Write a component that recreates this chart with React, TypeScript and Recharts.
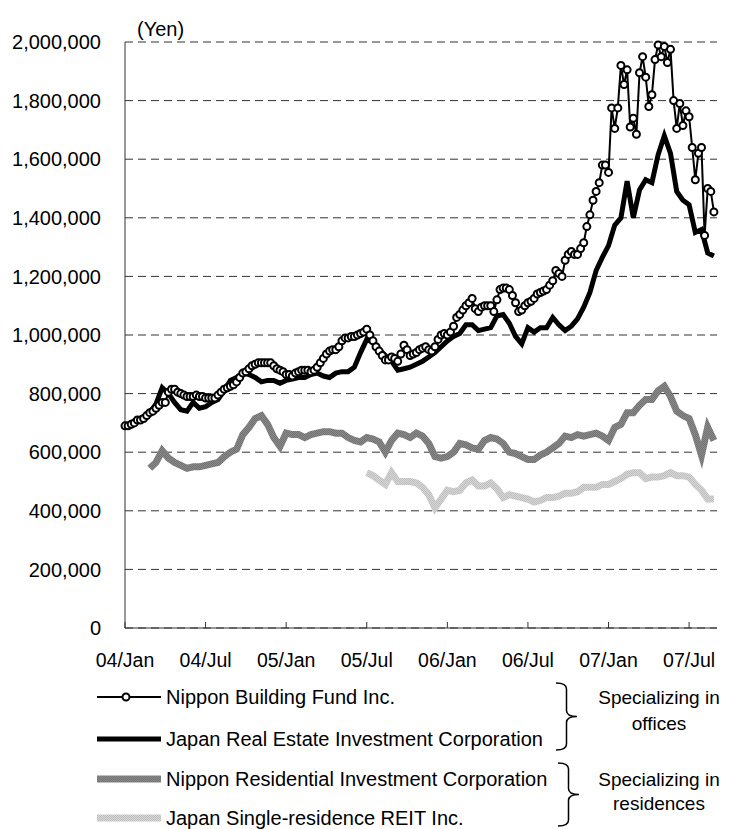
import React from 'react'
import { LineChart, Line, XAxis, YAxis, CartesianGrid } from 'recharts'

// Unit prices in thousand yen. Nippon Building Fund: weekly from the first week of Jan 2004
const nipponBuildingFund = [
  690, 690, 695, 700, 710, 710, 715, 725, 735, 740,
  750, 760, 770, 770, 805, 815, 815, 805, 800, 795,
  790, 790, 790, 795, 790, 790, 785, 785, 785, 785,
  795, 805, 815, 820, 825, 830, 840, 855, 870, 875,
  885, 895, 900, 905, 905, 905, 905, 905, 895, 885,
  880, 875, 865, 865, 860, 870, 875, 880, 880, 880,
  875, 880, 890, 905, 920, 935, 945, 950, 950, 960,
  980, 990, 990, 995, 995, 1000, 1005, 1010, 1020, 1000,
  980, 960, 945, 930, 915, 915, 925, 920, 910, 935,
  965, 950, 930, 935, 940, 950, 955, 960, 950, 945,
  960, 985, 1000, 1005, 1000, 1010, 1030, 1060, 1070, 1085,
  1100, 1110, 1125, 1090, 1080, 1095, 1100, 1100, 1100, 1080,
  1120, 1155, 1160, 1160, 1155, 1135, 1110, 1080, 1085, 1100,
  1110, 1115, 1125, 1140, 1145, 1150, 1155, 1170, 1185, 1220,
  1210, 1200, 1255, 1275, 1285, 1275, 1275, 1295, 1315, 1370,
  1410, 1460, 1490, 1520,
  1580, 1580, 1555, 1775, 1705, 1775, 1920, 1855, 1905, 1710,
  1740, 1685, 1895, 1950, 1880, 1780, 1820, 1940, 1990, 1950,
  1985, 1930, 1975, 1800, 1705, 1790, 1715, 1765, 1745, 1640,
  1530, 1620, 1640, 1340, 1500, 1490, 1420
]

// the other three: every two weeks
const japanRealEstate = [
  690, 690, 705, 715, 735, 765, 820, 800, 770, 745,
  740, 770, 750, 755, 770, 780, 810, 845, 855, 870,
  865, 855, 840, 845, 845, 835, 845, 850, 855, 855,
  865, 870, 860, 855, 870, 875, 875, 890, 940, 985,
  975, 950, 930, 910, 880, 885, 890, 900, 910, 925,
  940, 960, 980, 995, 1005, 1035, 1035, 1015, 1020, 1025,
  1065, 1070, 1040, 995, 970, 1025, 1010, 1025, 1025, 1060,
  1035, 1015, 1030, 1055, 1095, 1145, 1220, 1265, 1305, 1375,
  1400, 1525, 1400, 1495, 1530, 1520, 1615, 1680, 1620, 1490,
  1460, 1445, 1350, 1360, 1280, 1270
]

// listed later: first sample is the 4th / 39th two-week step
const nipponResidentialStart = 4
const nipponResidential = [
  545, 565, 605, 580, 565, 555,
  545, 550, 550, 555, 560, 565, 585, 600, 610, 660,
  685, 715, 725, 695, 650, 620, 665, 660, 660, 650,
  660, 665, 670, 670, 665, 665, 650, 640, 635, 650,
  645, 635, 600, 640, 665, 660, 650, 665, 655, 630,
  585, 580, 585, 600, 630, 625, 615, 610, 640, 650,
  645, 630, 600, 595, 585, 575, 575, 590, 600, 615,
  630, 655, 650, 660, 655, 660, 665, 655, 640, 685,
  695, 735, 735, 760, 780, 780, 810, 825, 790, 740,
  725, 715, 660, 590, 685, 640
]

const japanSingleResidenceStart = 39
const japanSingleResidence = [
  530,
  520, 505, 490, 530, 500, 500, 500, 495, 480, 455,
  410, 440, 470, 465, 470, 495, 505, 485, 485, 495,
  475, 445, 455, 450, 445, 440, 430, 435, 445, 445,
  450, 460, 460, 465, 480, 480, 480, 490, 490, 500,
  510, 525, 530, 530, 510, 515, 515, 520, 530, 520,
  520, 515, 490, 470, 440, 440
]

// tick positions in weeks since 04/Jan
const xTicks = [0, 26, 52, 78, 104, 130, 156, 182]
const xTickLabels = ['04/Jan', '04/Jul', '05/Jan', '05/Jul', '06/Jan', '06/Jul', '07/Jan', '07/Jul']
const yTicks = [0, 200000, 400000, 600000, 800000, 1000000, 1200000, 1400000, 1600000, 1800000, 2000000]

const seriesNames = [
  'Nippon Building Fund Inc.',
  'Japan Real Estate Investment Corporation',
  'Nippon Residential Investment Corporation',
  'Japan Single-residence REIT Inc.'
]

const nbfData = nipponBuildingFund.map((v, i) => ({ week: i, nbf: v * 1000 }))
const jreData = japanRealEstate.map((v, i) => ({ week: i * 2, jre: v * 1000 }))
const nriData = nipponResidential.map((v, i) => ({ week: (i + nipponResidentialStart) * 2, nri: v * 1000 }))
const jsrData = japanSingleResidence.map((v, i) => ({ week: (i + japanSingleResidenceStart) * 2, jsr: v * 1000 }))

const font = '"Liberation Sans", Arial, sans-serif'
const midGray = 'url(#ditherMid)'
const lightGray = 'url(#ditherLight)'

// right-pointing curly brace
const brace = (x: number, top: number, bottom: number, w: number) => {
  const mid = (top + bottom) / 2
  const cx = x + w / 2
  const r = 6
  return `M${x} ${top} Q${cx} ${top} ${cx} ${top + r} L${cx} ${mid - r} Q${cx} ${mid} ${x + w} ${mid} Q${cx} ${mid} ${cx} ${mid + r} L${cx} ${bottom - r} Q${cx} ${bottom} ${x} ${bottom}`
}

export default function App() {
  const rows = [697, 739, 779, 818]
  return (
    <div style={{ position: 'relative', width: 713, height: 821, fontFamily: font }}>
      <svg width={0} height={0} style={{ position: 'absolute' }}>
        <defs>
          <pattern id="ditherMid" width={2} height={2} patternUnits="userSpaceOnUse">
            <rect width={2} height={2} fill="#8a8a8a" />
            <rect width={1} height={1} fill="#727272" />
            <rect x={1} y={1} width={1} height={1} fill="#727272" />
          </pattern>
          <pattern id="ditherLight" width={2} height={2} patternUnits="userSpaceOnUse">
            <rect width={2} height={2} fill="#d8d8d8" />
            <rect width={1} height={1} fill="#bdbdbd" />
            <rect x={1} y={1} width={1} height={1} fill="#bdbdbd" />
          </pattern>
        </defs>
      </svg>

      <div style={{ position: 'absolute', left: 0, top: 0 }}>
        <LineChart width={713} height={680} margin={{ top: 34, right: 4, bottom: 20, left: 0 }}>
          <CartesianGrid vertical={false} stroke="#333" strokeDasharray="8 5" />
          <XAxis
            dataKey="week"
            type="number"
            domain={[0, 191]}
            ticks={xTicks}
            tickFormatter={(v) => xTickLabels[xTicks.indexOf(v)]}
            height={40}
            tickSize={-6}
            tickMargin={31}
            stroke="#333"
            tick={{ fill: '#000', fontSize: 19.5, fontFamily: font }}
            interval={0}
            allowDuplicatedCategory={false}
          />
          <YAxis
            width={117}
            domain={[0, 2000000]}
            ticks={yTicks}
            tickFormatter={(v) => v.toLocaleString('en-US')}
            tickLine={false}
            tickSize={0}
            tickMargin={24}
            stroke="#333"
            tick={{ fill: '#000', fontSize: 20, fontFamily: font }}
            interval={0}
          />
          <Line data={jsrData} dataKey="jsr" stroke={lightGray} strokeWidth={7} dot={false} isAnimationActive={false} strokeLinejoin="miter" />
          <Line data={nriData} dataKey="nri" stroke={midGray} strokeWidth={7} dot={false} isAnimationActive={false} strokeLinejoin="miter" />
          <Line data={jreData} dataKey="jre" stroke="#000" strokeWidth={5} dot={false} isAnimationActive={false} />
          <Line
            data={nbfData}
            dataKey="nbf"
            stroke="#000"
            strokeWidth={2}
            dot={{ r: 3.5, fill: '#fff', stroke: '#000', strokeWidth: 2 }}
            isAnimationActive={false}
          />
        </LineChart>
      </div>

      <svg width={713} height={821} style={{ position: 'absolute', left: 0, top: 0, pointerEvents: 'none' }} fontFamily={font}>
        {/* page coordinates: undo the 8px body margin */}
        <g transform="translate(-8,-8)">
          <text x={137} y={36} fontSize={20} fill="#000">(Yen)</text>

          {/* legend */}
          <line x1={97} x2={161} y1={rows[0]} y2={rows[0]} stroke="#000" strokeWidth={2} />
          <circle cx={126} cy={rows[0]} r={3.5} fill="#fff" stroke="#000" strokeWidth={2} />
          <line x1={97} x2={161} y1={rows[1]} y2={rows[1]} stroke="#000" strokeWidth={5} />
          <line x1={97} x2={161} y1={rows[2]} y2={rows[2]} stroke={midGray} strokeWidth={7} />
          <line x1={97} x2={161} y1={rows[3]} y2={rows[3]} stroke={lightGray} strokeWidth={7} />
          {seriesNames.map((name, i) => (
            <text key={name} x={166} y={rows[i] + 7} fontSize={20} fill="#000">{name}</text>
          ))}

          <path d={brace(556, 683, 750, 21)} fill="none" stroke="#000" strokeWidth={1.5} />
          <path d={brace(558, 763, 826, 21)} fill="none" stroke="#000" strokeWidth={1.5} />
          <text x={659} y={704} fontSize={19} textAnchor="middle" fill="#000">Specializing in</text>
          <text x={659} y={730} fontSize={19} textAnchor="middle" fill="#000">offices</text>
          <text x={659} y={786} fontSize={19} textAnchor="middle" fill="#000">Specializing in</text>
          <text x={659} y={810} fontSize={19} textAnchor="middle" fill="#000">residences</text>
        </g>
      </svg>
    </div>
  )
}
